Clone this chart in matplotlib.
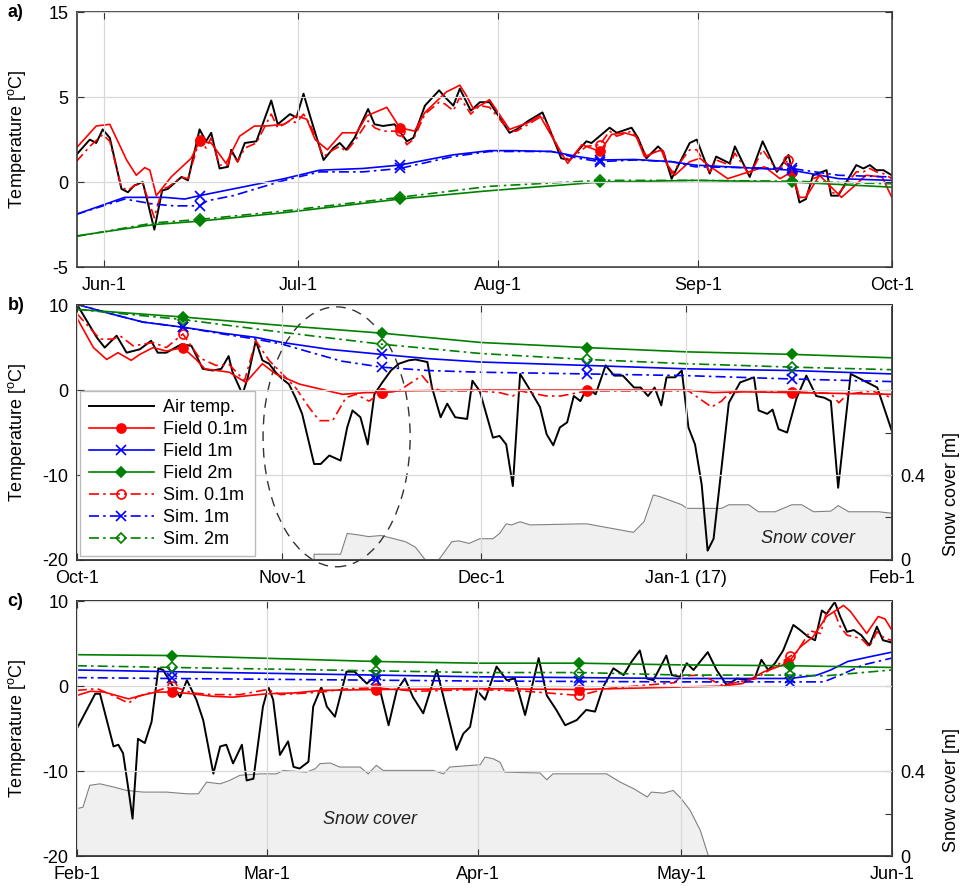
import numpy as np
import matplotlib
matplotlib.use('Agg')
import matplotlib.pyplot as plt
from matplotlib.patches import Ellipse

plt.rcParams['font.family'] = ['Liberation Sans', 'DejaVu Sans']
plt.rcParams['mathtext.fontset'] = 'custom'
plt.rcParams['mathtext.rm'] = 'Liberation Sans'
plt.rcParams['mathtext.it'] = 'Liberation Sans:italic'

# ---------------- panel a: days since Jun-1 ----------------
a_air = [(-4.3, 1.6), (-2.2, 2.5), (-1.2, 2.3), (-0.2, 3.1), (0.9, 2.6), (2.7, -0.4), (3.7, -0.6),
         (4.7, -0.2), (6.0, 0.0), (7.8, -2.8), (9.0, -0.5), (9.9, -0.4), (12.0, 0.3), (13.0, 0.1),
         (14.8, 3.1), (15.8, 2.4), (16.6, 2.9), (17.9, 0.8), (19.2, 0.9), (19.7, 1.9), (20.7, 1.2),
         (21.8, 2.3), (23.6, 2.4), (25.9, 4.8), (26.9, 3.4), (28.8, 4.0), (29.8, 3.8), (30.9, 5.2),
         (31.9, 3.9), (34.0, 1.3), (35.5, 2.0), (36.5, 2.3), (37.5, 1.9), (38.8, 2.6), (40.9, 4.3),
         (41.9, 3.4), (43.2, 3.3), (45.0, 3.4), (46.9, 2.4), (47.9, 2.6), (49.7, 4.5), (51.9, 5.4),
         (52.8, 5.0), (54.1, 4.5), (55.1, 5.5), (56.8, 4.2), (58.2, 4.7), (59.7, 4.7), (62.8, 2.9),
         (63.9, 3.1), (65.7, 3.6), (67.9, 4.1), (68.8, 3.3), (70.8, 1.4), (72.1, 1.3), (74.7, 2.4),
         (75.5, 2.3), (78.3, 3.2), (79.4, 2.9), (81.7, 3.2), (82.7, 2.6), (84.0, 1.4), (85.8, 2.1),
         (86.6, 1.8), (87.9, 0.2), (90.7, 2.3), (91.8, 2.5), (93.8, 0.5), (94.8, 1.5), (96.9, 1.1),
         (97.7, 2.1), (100.0, 0.3), (102.0, 2.4), (104.2, 0.6), (106.0, 1.6), (107.7, -1.2),
         (108.7, -1.0), (109.8, 0.4), (111.9, 0.7), (112.6, -0.8), (113.7, -0.8), (116.5, 1.0),
         (117.6, 0.8), (118.6, 1.0), (119.6, 0.7), (120.7, 0.7), (122.0, 0.4)]
a_f01 = [(-4.3, 2.0), (-1.2, 3.3), (0.9, 3.4), (3.5, 1.3), (5.0, 0.4), (6.3, 0.85), (7.1, 0.7),
         (8.1, -0.8), (10.4, 0.3), (13.5, 1.4), (14.8, 2.4), (16.6, 2.3), (18.9, 1.1), (21.0, 2.7),
         (23.3, 3.3), (25.1, 3.3), (27.9, 3.4), (29.8, 3.9), (31.4, 3.7), (32.7, 2.5), (34.6, 1.9),
         (36.9, 2.9), (39.1, 2.9), (40.7, 3.9), (43.8, 4.4), (45.8, 3.2), (48.1, 3.0), (49.7, 4.1),
         (53.0, 5.3), (55.1, 5.7), (56.1, 5.1), (57.2, 4.3), (58.7, 4.6), (59.7, 4.85), (62.8, 3.1),
         (65.7, 3.5), (67.5, 3.9), (70.1, 2.2), (71.8, 1.1), (74.0, 2.2), (76.8, 1.8), (78.6, 2.8),
         (80.6, 2.9), (82.4, 2.7), (83.7, 1.5), (86.3, 1.9), (87.1, 1.1), (88.4, 0.4), (90.7, 1.2),
         (92.3, 1.4), (94.3, 0.8), (96.6, 0.2), (102.3, 0.9), (104.7, 0.2), (106.5, 0.6),
         (107.7, -0.9), (108.7, -0.9), (110.8, 0.4), (114.2, -0.9), (116.0, -0.3), (118.0, 0.4),
         (120.5, 0.3), (122.0, -0.9)]
a_f1 = [(-4.3, -1.9), (3.2, -0.9), (9.4, -0.9), (12.5, -1.0), (14.8, -0.8), (27.9, 0.2), (33.4, 0.7),
        (40.1, 0.8), (45.8, 1.0), (54.0, 1.6), (59.7, 1.85), (63.6, 1.85), (69.3, 1.8), (73.4, 1.5),
        (76.8, 1.3), (82.2, 1.33), (87.9, 1.2), (91.5, 1.0), (106.5, 0.7), (113.8, 0.2), (122.0, 0.1)]
a_f2 = [(-4.3, -3.17), (7.8, -2.5), (14.8, -2.3), (27.9, -1.8), (45.8, -1.0), (59.0, -0.53),
        (76.8, 0.0), (91.5, 0.1), (106.5, 0.0), (122.0, -0.3)]
a_s01 = [(-4.3, 1.2), (-2.2, 2.1), (-0.2, 2.8), (0.9, 2.4), (2.7, -0.3), (3.7, -0.5), (4.7, -0.2),
         (6.0, -0.1), (7.8, -2.1), (9.0, -0.4), (9.9, -0.3), (12.0, 0.3), (13.0, 0.2), (14.8, 2.5),
         (15.8, 2.0), (16.6, 2.6), (17.9, 1.0), (19.2, 1.0), (19.7, 1.7), (20.7, 1.2), (21.8, 2.0),
         (23.6, 2.3), (25.9, 4.0), (26.9, 3.2), (28.8, 3.6), (29.8, 3.5), (30.9, 4.0), (31.9, 3.4),
         (34.0, 1.5), (35.5, 1.9), (36.5, 2.1), (37.5, 1.8), (38.8, 2.4), (40.9, 3.6), (41.9, 3.2),
         (43.2, 3.0), (45.8, 3.0), (46.9, 2.2), (47.9, 2.5), (49.7, 4.0), (51.9, 4.7), (52.8, 4.6),
         (54.1, 4.2), (55.1, 5.0), (56.8, 4.0), (58.2, 4.5), (59.7, 4.4), (62.8, 3.0), (63.9, 3.0),
         (65.7, 3.4), (67.9, 3.9), (68.8, 3.3), (70.8, 1.6), (72.1, 1.3), (74.7, 2.1), (76.8, 2.2),
         (78.3, 3.0), (79.4, 2.7), (81.7, 3.0), (82.7, 2.5), (84.0, 1.5), (85.8, 1.9), (86.6, 1.8),
         (87.9, 0.5), (90.7, 1.9), (91.8, 1.9), (93.8, 0.6), (94.8, 1.3), (96.9, 1.0), (97.7, 1.7),
         (100.0, 0.4), (102.0, 1.9), (104.2, 0.7), (106.0, 1.3), (107.7, -0.9), (108.7, -0.9),
         (109.8, 0.2), (111.9, 0.5), (112.6, -0.6), (113.7, -0.7), (116.5, 0.6), (117.6, 0.6),
         (118.6, 0.8), (119.6, 0.6), (120.7, 0.5), (122.0, 0.2)]
a_s1 = [(-4.3, -1.9), (3.2, -1.0), (7.8, -1.3), (10.9, -1.4), (14.8, -1.4), (16.0, -1.1), (20.0, -0.8),
        (27.9, 0.1), (33.4, 0.6), (40.1, 0.6), (45.8, 0.8), (54.0, 1.5), (59.7, 1.8), (63.6, 1.8),
        (69.3, 1.8), (73.4, 1.4), (76.8, 1.2), (82.2, 1.3), (87.9, 1.2), (91.5, 0.9), (106.5, 0.8),
        (113.8, 0.4), (122.0, 0.3)]
a_s2 = [(-4.3, -3.2), (7.8, -2.4), (14.8, -2.2), (27.9, -1.7), (45.8, -0.9), (59.7, -0.25),
        (76.8, 0.1), (91.5, 0.1), (106.5, 0.05), (122.0, -0.1)]
a_marks = [14.8, 45.8, 76.8, 106.5]

# ---------------- panel b: days since Oct-1 ----------------
b_air = [(0, 10.1), (3.0, 6.2), (4.2, 5.0), (6.0, 6.4), (7.5, 4.4), (9.5, 4.8), (11.2, 5.8),
         (12.2, 4.4), (13.5, 4.4), (15.8, 5.4), (17.3, 5.2), (19.0, 2.5), (20.5, 2.3), (21.8, 2.5),
         (22.9, 4.0), (23.5, 2.1), (25.0, -0.5), (25.8, 1.5), (27.0, 5.8), (28.0, 3.5), (29.0, 3.1),
         (30.0, 2.1), (31.0, 1.3), (32.0, 0.7), (33.0, -0.9), (34.0, -2.8), (35.8, -8.7), (36.8, -8.7),
         (38.1, -7.7), (39.8, -8.3), (40.8, -4.4), (41.6, -2.4), (42.8, -3.2), (43.9, -6.4),
         (44.9, -0.5), (46.1, 0.9), (47.4, 2.3), (48.6, 3.1), (50.1, 3.5), (51.1, 3.6), (52.9, 3.3),
         (53.6, 0.3), (54.9, -3.2), (55.9, -1.6), (57.1, -3.2), (58.9, -3.4), (59.7, 1.1),
         (60.8, -0.1), (62.8, -5.6), (63.8, -5.4), (64.8, -6.4), (65.8, -11.3), (66.9, 1.9),
         (68.4, 0.0), (69.9, -2.0), (70.9, -5.2), (71.9, -6.5), (72.9, -4.4), (74.0, -3.8),
         (75.0, -0.7), (76.0, -1.3), (77.0, 0.3), (78.3, -0.5), (79.8, 2.9), (81.1, 1.7), (82.4, 1.7),
         (84.1, 0.3), (85.1, 0.3), (86.2, -0.7), (87.2, 0.3), (88.2, -1.8), (89.0, 1.5), (90.3, 1.5),
         (91.3, 2.3), (92.3, -4.4), (93.3, -6.4), (94.3, -11.1), (95.2, -18.9), (96.1, -17.5),
         (98.4, -1.5), (100.1, 0.9), (102.2, 1.5), (102.9, -2.4), (104.2, -2.8), (105.0, -2.3),
         (105.9, -4.6), (107.2, -5.0), (108.6, -1.0), (110.1, 1.7), (111.6, -0.7), (112.8, -0.9),
         (113.8, -1.3), (114.9, -11.5), (116.8, 1.9), (119.3, 0.9), (120.8, 0.3), (123.0, -4.8)]
b_f01 = [(0, 8.5), (2.5, 5.0), (4.5, 3.6), (6.2, 4.4), (8.2, 3.5), (9.5, 4.2), (11.5, 5.0), (13.5, 4.6),
         (16.0, 5.0), (18.0, 3.6), (19.3, 2.5), (23.0, 2.1), (25.5, 0.9), (28.0, 3.1), (30.0, 1.9),
         (33.6, 0.7), (40.1, -0.5), (43.6, -0.3), (46.0, -0.3), (48.6, -0.1), (60.0, 0.0), (77.0, 0.0),
         (92.0, 0.0), (96.0, -0.3), (100.0, -0.2), (108.0, -0.3), (123.0, -0.5)]
b_f1 = [(0, 10.1), (5, 9.0), (10, 8.0), (16, 7.4), (22, 6.7), (27, 6.2), (31, 5.6), (38, 4.8),
        (46, 4.2), (53, 3.7), (61, 3.3), (77, 2.9), (92, 2.5), (108, 2.3), (123, 1.9)]
b_f2 = [(0, 9.5), (16, 8.6), (31, 7.6), (46, 6.7), (61, 5.6), (77, 5.0), (92, 4.5), (108, 4.2), (123, 3.8)]
b_s01 = [(0, 9.0), (3.5, 6.0), (5.5, 6.0), (6.5, 6.4), (8.5, 5.2), (11.5, 5.6), (13.5, 5.0), (16.0, 6.6),
         (18.5, 3.8), (21.0, 2.9), (23.0, 3.0), (25.3, 1.1), (27.0, 5.8), (29.0, 3.5), (31.0, 1.9),
         (33.0, 0.3), (35.0, -2.0), (36.6, -3.6), (38.6, -3.6), (40.6, -0.9), (42.1, -0.5), (44.1, -1.3),
         (46.0, -0.3), (48.6, -0.1), (50.5, 0.9), (52.1, 1.7), (53.6, 0.3), (55.0, -0.1), (60.8, -0.1),
         (63.8, -0.3), (65.8, -0.7), (66.9, -0.1), (70.9, -0.7), (73.0, -0.7), (77.0, -0.1),
         (92.3, -0.1), (95.8, -2.0), (97.3, -1.3), (98.4, -0.4), (101.0, -0.1), (108.0, -0.2),
         (113.8, -0.4), (115.0, -1.5), (116.3, -0.5), (120.0, -0.1), (123.0, -0.9)]
b_s1 = [(0, 10.1), (5, 9.0), (10, 8.0), (16, 7.4), (22, 6.6), (27, 6.0), (31, 5.4), (35, 4.5), (40, 3.4),
        (46, 2.7), (53, 2.3), (61, 2.1), (77, 1.9), (92, 1.7), (108, 1.3), (123, 1.0)]
b_s2 = [(0, 9.5), (16, 8.3), (31, 6.8), (46, 5.4), (61, 4.3), (77, 3.6), (92, 3.1), (108, 2.7), (123, 2.4)]
b_snow = [(0, 0.0), (35.8, 0.0), (35.8, 0.027), (39.8, 0.027), (40.8, 0.125), (42.5, 0.118),
          (44.0, 0.11), (45.9, 0.115), (47.1, 0.106), (48.6, 0.094), (49.6, 0.086), (51.1, 0.06),
          (52.6, 0.0), (54.6, 0.0), (56.6, 0.086), (57.6, 0.09), (59.2, 0.078), (60.8, 0.10),
          (62.8, 0.10), (63.8, 0.125), (64.8, 0.17), (65.6, 0.165), (66.9, 0.18), (68.4, 0.165),
          (76.0, 0.17), (77.0, 0.17), (84.0, 0.13), (85.6, 0.18), (87.0, 0.306), (88.0, 0.298),
          (91.3, 0.26), (92.1, 0.243), (97.3, 0.243), (98.4, 0.26), (101.4, 0.26), (102.9, 0.227),
          (105.4, 0.227), (107.9, 0.26), (109.4, 0.26), (111.2, 0.227), (113.8, 0.23), (114.9, 0.256),
          (116.5, 0.227), (121.0, 0.227), (123.0, 0.22)]
b_marks = [16, 46, 77, 108]

# ---------------- panel c: days since Feb-1 ----------------
c_air = [(0, -5.0), (2.7, -0.9), (3.4, -0.9), (5.4, -7.1), (6.1, -6.9), (6.8, -7.9), (7.6, -12.2),
         (8.2, -15.6), (9.0, -6.2), (10.0, -6.7), (11.0, -4.2), (12.0, 2.1), (12.7, 1.9), (14.2, -0.1),
         (15.2, -1.3), (16.2, 0.7), (17.6, -1.6), (18.6, -4.0), (20.1, -10.3), (21.1, -7.1),
         (22.0, -6.9), (23.0, -9.1), (24.3, -6.9), (25.0, -11.1), (26.0, -10.9), (27.4, -2.4),
         (28.2, -0.1), (28.9, -1.6), (29.9, -8.1), (31.1, -6.5), (31.9, -9.5), (32.8, -9.7),
         (34.1, -8.9), (34.8, -2.4), (36.0, -0.1), (36.8, -2.4), (38.0, -3.6), (39.7, 1.7),
         (40.9, 1.7), (42.7, 0.3), (44.1, 1.3), (45.9, -4.6), (47.1, -0.5), (48.3, 0.9), (49.5, -1.3),
         (51.0, -3.2), (53.0, 1.9), (55.9, -7.5), (56.9, -5.6), (57.9, -4.8), (58.9, -0.5),
         (60.1, -1.6), (61.8, 2.3), (63.3, 0.7), (64.5, 0.9), (66.0, -3.4), (67.0, -0.1), (68.0, 3.3),
         (69.2, -1.1), (70.6, -2.8), (71.9, -4.6), (73.6, -4.0), (75.0, -2.8), (76.3, -3.0),
         (77.5, -0.1), (79.0, 2.1), (80.5, 1.3), (81.7, 2.9), (82.9, 4.2), (83.9, 0.9), (84.9, 0.7),
         (86.8, 3.6), (87.6, 1.3), (88.8, 1.1), (89.8, 2.7), (90.8, 1.9), (92.9, 4.0), (94.2, 1.9),
         (95.7, 0.1), (97.2, 0.9), (98.7, 0.7), (99.8, 0.9), (100.8, 3.1), (101.8, 1.9), (102.8, 2.7),
         (104.0, 4.2), (105.5, 7.2), (106.5, 6.6), (107.7, 5.8), (108.7, 5.4), (109.7, 8.9),
         (110.4, 8.5), (111.6, 9.9), (112.4, 8.2), (113.4, 6.4), (114.4, 6.6), (115.5, 6.0),
         (116.7, 4.8), (117.8, 7.0), (118.7, 5.4), (119.7, 5.2), (120.0, 5.1)]
c_f01 = [(0, -1.1), (2, -0.6), (4, -0.7), (7.6, -1.5), (10, -1.0), (11.7, -0.7), (14, -0.7), (17, -0.9),
         (20, -1.2), (23, -1.3), (28, -0.9), (32, -0.8), (36, -0.5), (44, -0.4), (59, -0.3), (74, -0.4),
         (89, -0.1), (95, 0.0), (98, 0.3), (101.2, 1.7), (104.7, 2.7), (106.5, 4.6), (108.4, 5.8),
         (110.4, 8.2), (112.9, 9.5), (113.9, 8.8), (116.3, 6.2), (118.0, 8.2), (119.0, 7.9), (120.0, 6.6)]
c_f1 = [(0, 1.9), (14, 1.7), (44, 1.3), (59, 1.1), (74, 1.0), (89, 0.9), (105, 0.9), (109, 1.3),
        (111, 1.9), (113.5, 2.9), (117, 3.5), (120, 4.0)]
c_f2 = [(0, 3.7), (14, 3.6), (44, 2.9), (59, 2.7), (74, 2.7), (89, 2.5), (105, 2.4), (120, 2.2)]
c_s01 = [(0, -0.5), (3, -0.3), (5, -1.0), (7.6, -2.0), (9, -1.2), (12, -0.5), (14, 0.0), (17, -0.8),
         (20, -1.0), (24, -1.0), (28, -0.4), (30, -1.0), (36, -0.7), (40, -0.3), (44, -0.2), (50, -0.6),
         (59, -0.4), (66, -0.6), (74, -1.1), (78, -0.3), (85, 0.2), (88, 0.4), (89, 1.2), (92, 1.3),
         (95, 0.1), (100, 0.9), (103, 2.4), (105, 3.5), (106, 4.0), (108, 6.5), (109.5, 6.2),
         (110.5, 9.0), (111.6, 8.6), (112.4, 7.0), (113.4, 6.0), (115.5, 5.6), (116.7, 4.6),
         (117.8, 6.4), (119.0, 5.6), (120.0, 5.4)]
c_s1 = [(0, 1.0), (14, 0.9), (44, 0.7), (59, 0.6), (74, 0.55), (89, 0.5), (105, 0.5), (110, 0.5),
        (112.4, 1.3), (115.8, 2.5), (120, 3.3)]
c_s2 = [(0, 2.4), (14, 2.2), (44, 1.8), (59, 1.6), (74, 1.6), (89, 1.3), (105, 1.3), (110, 1.2), (120, 1.9)]
c_snow = [(0, 0.223), (0.9, 0.23), (1.9, 0.333), (3.4, 0.34), (5.4, 0.325), (7.3, 0.309), (9.8, 0.301),
          (13.2, 0.301), (16.2, 0.293), (17.9, 0.293), (19.1, 0.348), (21.1, 0.34), (22.5, 0.356),
          (24.0, 0.38), (27.0, 0.387), (29.4, 0.387), (30.4, 0.403), (33.8, 0.395), (35.1, 0.411),
          (35.8, 0.435), (37.3, 0.438), (38.7, 0.419), (41.7, 0.419), (42.9, 0.387), (44.1, 0.427),
          (45.1, 0.403), (52.5, 0.403), (54.0, 0.387), (54.9, 0.419), (59.4, 0.43), (60.1, 0.466),
          (61.3, 0.458), (62.3, 0.442), (63.0, 0.395), (68.2, 0.391), (69.2, 0.359), (70.1, 0.387),
          (78.0, 0.387), (80.0, 0.348), (82.0, 0.317), (84.0, 0.278), (84.6, 0.301), (86.4, 0.296),
          (87.8, 0.309), (89.0, 0.27), (90.3, 0.215), (91.8, 0.121), (93.0, 0.0), (120.0, 0.0)]
c_marks = [14, 44, 74, 105]

DD = (0, (6, 2.5, 1.5, 2.5))
STYLES = [
    ('air', 'Air temp.', 'k', '-', None, 'full'),
    ('f01', 'Field 0.1m', '#ff0000', '-', 'o', 'full'),
    ('f1', 'Field 1m', '#0000ff', '-', 'x', 'full'),
    ('f2', 'Field 2m', '#008000', '-', 'D', 'full'),
    ('s01', 'Sim. 0.1m', '#ff0000', DD, 'o', 'none'),
    ('s1', 'Sim. 1m', '#0000ff', DD, 'x', 'none'),
    ('s2', 'Sim. 2m', '#008000', DD, 'D', 'none'),
]
FS = 13


def draw(ax, series, marks):
    for key, lab, col, ls, mk, fill in STYLES:
        d, t = np.array(series[key]).T
        idx = [int(np.argmin(np.abs(d - m))) for m in marks] if mk else None
        ms = 5.5 if mk == 'D' else 6.5
        lw = 1.4 if key == 'air' else 1.2
        ax.plot(d, t, color=col, ls=ls, lw=lw, marker=mk, markevery=idx, ms=ms,
                fillstyle=fill, mew=1.2, label=lab)


def style(ax, xlim, xt, xl, ylim, yt, yl, letter):
    ax.set_xlim(*xlim)
    ax.set_ylim(*ylim)
    ax.set_xticks(xt)
    ax.set_xticklabels(xl)
    ax.set_yticks(yt)
    ax.set_yticklabels(yl)
    ax.grid(True, color='#d8d8d8', lw=0.9)
    ax.set_axisbelow(False)
    ax.tick_params(direction='in', length=5, labelsize=FS, top=True, pad=6, color='#333333')
    ax.tick_params(axis='x', pad=7)
    ax.set_ylabel(r'Temperature [$^{\mathrm{o}}$C]', fontsize=FS)
    ax.yaxis.set_label_coords(-0.06, 0.5)
    for s in ax.spines.values():
        s.set_linewidth(1.2)
        s.set_color('#333333')
    ax.text(-0.085, 1.0, letter, transform=ax.transAxes, fontsize=FS, fontweight='bold',
            ha='left', va='center')


def snow_axis(ax, snow, tx, ty):
    ax2 = ax.twinx()
    d, s = np.array(snow).T
    ax2.fill_between(d, 0, s, color='#f0f0f0', lw=0)
    ax2.plot(d, s, color='#808080', lw=0.8)
    ax2.set_ylim(0, 1.2)
    ax2.set_yticks([0, 0.2, 0.4, 0.6, 0.8])
    ax2.set_yticklabels(['0', '', '0.4', '', ''])
    ax2.tick_params(direction='in', length=5, labelsize=FS, pad=6, color='#333333')
    ax2.set_ylabel('Snow cover [m]', fontsize=FS)
    ax2.yaxis.set_label_coords(1.063, 0.26)
    for sp in ax2.spines.values():
        sp.set_linewidth(1.2)
        sp.set_color('#333333')
    ax.set_zorder(ax2.get_zorder() + 1)
    ax.patch.set_visible(False)
    ax.tick_params(right=False)
    ax.text(tx, ty, 'Snow cover', transform=ax.transAxes, fontsize=FS, style='italic',
            ha='center', va='center', color='#222222')
    return ax2


fig = plt.figure(figsize=(9.61, 8.88), dpi=100)
L, W, H = 0.080, 0.848, 0.287
axa = fig.add_axes([L, 0.6993, W, H])
axb = fig.add_axes([L, 0.3694, W, H])
axc = fig.add_axes([L, 0.036, W, H])

draw(axa, dict(air=a_air, f01=a_f01, f1=a_f1, f2=a_f2, s01=a_s01, s1=a_s1, s2=a_s2), a_marks)
style(axa, (-4.2, 122), [0, 30, 61, 92, 122], ['Jun-1', 'Jul-1', 'Aug-1', 'Sep-1', 'Oct-1'],
      (-5, 10), [-5, 0, 5, 10], ['-5', '0', '5', '15'], 'a)')
axa.tick_params(right=True)

draw(axb, dict(air=b_air, f01=b_f01, f1=b_f1, f2=b_f2, s01=b_s01, s1=b_s1, s2=b_s2), b_marks)
style(axb, (0, 123), [0, 31, 61, 92, 123], ['Oct-1', 'Nov-1', 'Dec-1', 'Jan-1 (17)', 'Feb-1'],
      (-20, 10), [-20, -10, 0, 10], ['-20', '-10', '0', '10'], 'b)')
snow_axis(axb, b_snow, 0.897, 0.086)
axb.add_patch(Ellipse((39.2, -5.5), 22.2, 30.6, fill=False, ec='#333333', lw=1.0,
                      ls=(0, (7, 5)), clip_on=False))
leg = axb.legend(loc='lower left', fontsize=FS, handlelength=3.6, labelspacing=0.28,
                 borderpad=0.45, handletextpad=0.5, fancybox=False, framealpha=1,
                 edgecolor='#bbbbbb', borderaxespad=0.2)
leg.get_frame().set_linewidth(1.0)

draw(axc, dict(air=c_air, f01=c_f01, f1=c_f1, f2=c_f2, s01=c_s01, s1=c_s1, s2=c_s2), c_marks)
style(axc, (0, 120), [0, 28, 59, 89, 120], ['Feb-1', 'Mar-1', 'Apr-1', 'May-1', 'Jun-1'],
      (-20, 10), [-20, -10, 0, 10], ['-20', '-10', '0', '10'], 'c)')
snow_axis(axc, c_snow, 0.36, 0.145)

fig.savefig('out.png', dpi=100)
